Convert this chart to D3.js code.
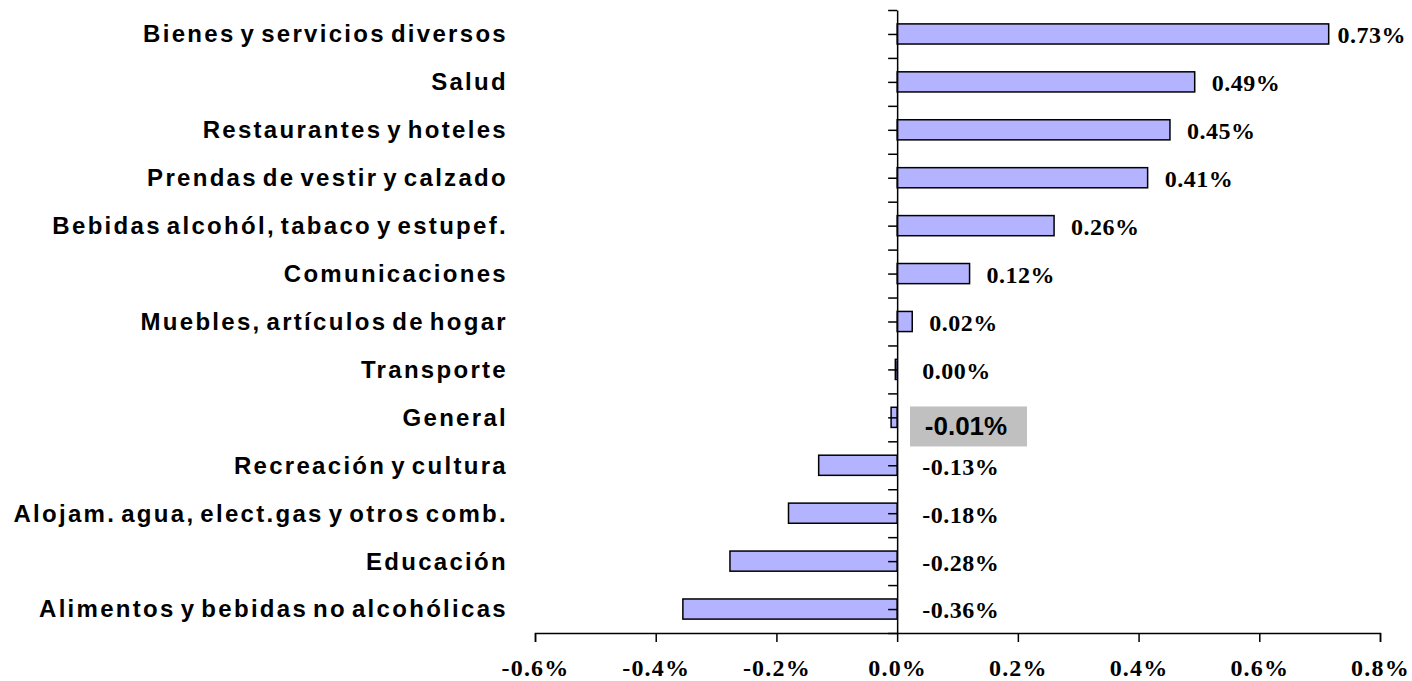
<!DOCTYPE html>
<html>
<head>
<meta charset="utf-8">
<script src="https://cdn.jsdelivr.net/npm/d3@7"></script>
<style>
  html, body { margin: 0; padding: 0; background: #fff; }
  svg { display: block; }
</style>
</head>
<body>
<svg id="chart" width="1412" height="681"></svg>
<script>
// ---- data ----
const categories = [
  "Bienes y servicios diversos",
  "Salud",
  "Restaurantes y hoteles",
  "Prendas de vestir y calzado",
  "Bebidas alcohól, tabaco y estupef.",
  "Comunicaciones",
  "Muebles, artículos de hogar",
  "Transporte",
  "General",
  "Recreación y cultura",
  "Alojam. agua, elect.gas y otros comb.",
  "Educación",
  "Alimentos y bebidas no alcohólicas"
];
// bar lengths as drawn in the picture (percent)
const values = [0.715, 0.493, 0.452, 0.415, 0.26, 0.12, 0.025, -0.003, -0.01, -0.13, -0.18, -0.277, -0.355];
// data labels as printed
const valueLabels = ["0.73%", "0.49%", "0.45%", "0.41%", "0.26%", "0.12%", "0.02%", "0.00%", "-0.01%", "-0.13%", "-0.18%", "-0.28%", "-0.36%"];
const highlight = "General";
const xTicks = [-0.6, -0.4, -0.2, 0.0, 0.2, 0.4, 0.6, 0.8];
const xTickLabels = ["-0.6%", "-0.4%", "-0.2%", "0.0%", "0.2%", "0.4%", "0.6%", "0.8%"];

(function () {
// ---- layout ----
const svg = d3.select("#chart");
const mLeft = 535, mRight = 1380, mTop = 10, mBottom = 633;

const x = d3.scaleLinear().domain([-0.6, 0.8]).range([mLeft, mRight]);
const y = d3.scaleBand().domain(categories).range([mTop, mBottom])
  .paddingInner(0.58).paddingOuter(0.29);
const yIdx = d3.scaleLinear().domain([0, categories.length]).range([mTop, mBottom]);

const data = categories.map((c, i) => ({ c, v: values[i], label: valueLabels[i] }));

// bars
svg.append("g").selectAll("rect").data(data).join("rect")
  .attr("x", d => x(Math.min(0, d.v)))
  .attr("y", d => y(d.c))
  .attr("width", d => Math.abs(x(d.v) - x(0)))
  .attr("height", y.bandwidth())
  .attr("fill", "#b3b3ff")
  .attr("stroke", "#000")
  .attr("stroke-width", 1.5);

// x axis
const xAxis = svg.append("g")
  .attr("transform", `translate(0,${mBottom})`)
  .call(d3.axisBottom(x).tickValues(xTicks)
    .tickFormat((d, i) => xTickLabels[i]).tickSize(9).tickSizeOuter(9));
xAxis.select(".domain").attr("stroke", "#000").attr("stroke-width", 1.5);
xAxis.selectAll(".tick line").attr("stroke", "#000").attr("stroke-width", 1.5);
xAxis.selectAll(".tick text")
  .attr("y", 0).attr("dy", null)
  .attr("transform", "translate(0,43)")
  .attr("font-family", "'Liberation Serif', 'Times New Roman', serif")
  .attr("font-weight", "bold")
  .attr("font-size", 24)
  .attr("letter-spacing", 1.2)
  .attr("fill", "#000");

// y axis at zero (ticks at category centres and boundaries)
const yAxis = svg.append("g")
  .attr("transform", `translate(${x(0)},0)`)
  .call(d3.axisLeft(yIdx).tickValues(d3.range(0, categories.length + 0.01, 0.5))
    .tickFormat("").tickSize(9).tickSizeOuter(0));
yAxis.select(".domain").attr("stroke", "#000").attr("stroke-width", 1.5);
yAxis.selectAll(".tick line").attr("stroke", "#000").attr("stroke-width", 1.5);

// category labels
svg.append("g").selectAll("text").data(categories).join("text")
  .attr("x", 508)
  .attr("y", d => y(d) + y.bandwidth() / 2)
  .attr("dy", "0.35em")
  .attr("text-anchor", "end")
  .attr("font-family", "'Liberation Sans', Arial, sans-serif")
  .attr("font-weight", "bold")
  .attr("font-size", 24)
  .attr("letter-spacing", 2.3)
  .attr("word-spacing", -4)
  .attr("fill", "#000")
  .text(d => d);

// value labels
const labelG = svg.append("g");
data.forEach(d => {
  const cy = y(d.c) + y.bandwidth() / 2 + 1;
  if (d.c === highlight) {
    const g = labelG.append("g");
    const t = g.append("text")
      .attr("x", 966).attr("y", cy + 8)
      .attr("dy", "0.35em")
      .attr("text-anchor", "middle")
      .attr("font-family", "'Liberation Sans', Arial, sans-serif")
      .attr("font-weight", "bold")
      .attr("font-size", 26)
      .attr("fill", "#000")
      .text(d.label);
    const bb = t.node().getBBox();
    g.insert("rect", "text")
      .attr("x", 910).attr("y", bb.y - 5)
      .attr("width", 117).attr("height", bb.height + 10)
      .attr("fill", "#c0c0c0");
    return;
  }
  const t = labelG.append("text")
    .attr("y", cy)
    .attr("dy", "0.35em")
    .attr("font-family", "'Liberation Serif', 'Times New Roman', serif")
    .attr("font-weight", "bold")
    .attr("font-size", 24)
    .attr("letter-spacing", 0.5)
    .attr("fill", "#000")
    .text(d.label);
  let tx = d.v > 0 ? x(d.v) + 17 : x(0) + 25;
  t.attr("x", tx);
  const w = t.node().getComputedTextLength();
  if (tx + w > 1406) t.attr("x", 1406 - w);
});
})();
</script>
</body>
</html>
